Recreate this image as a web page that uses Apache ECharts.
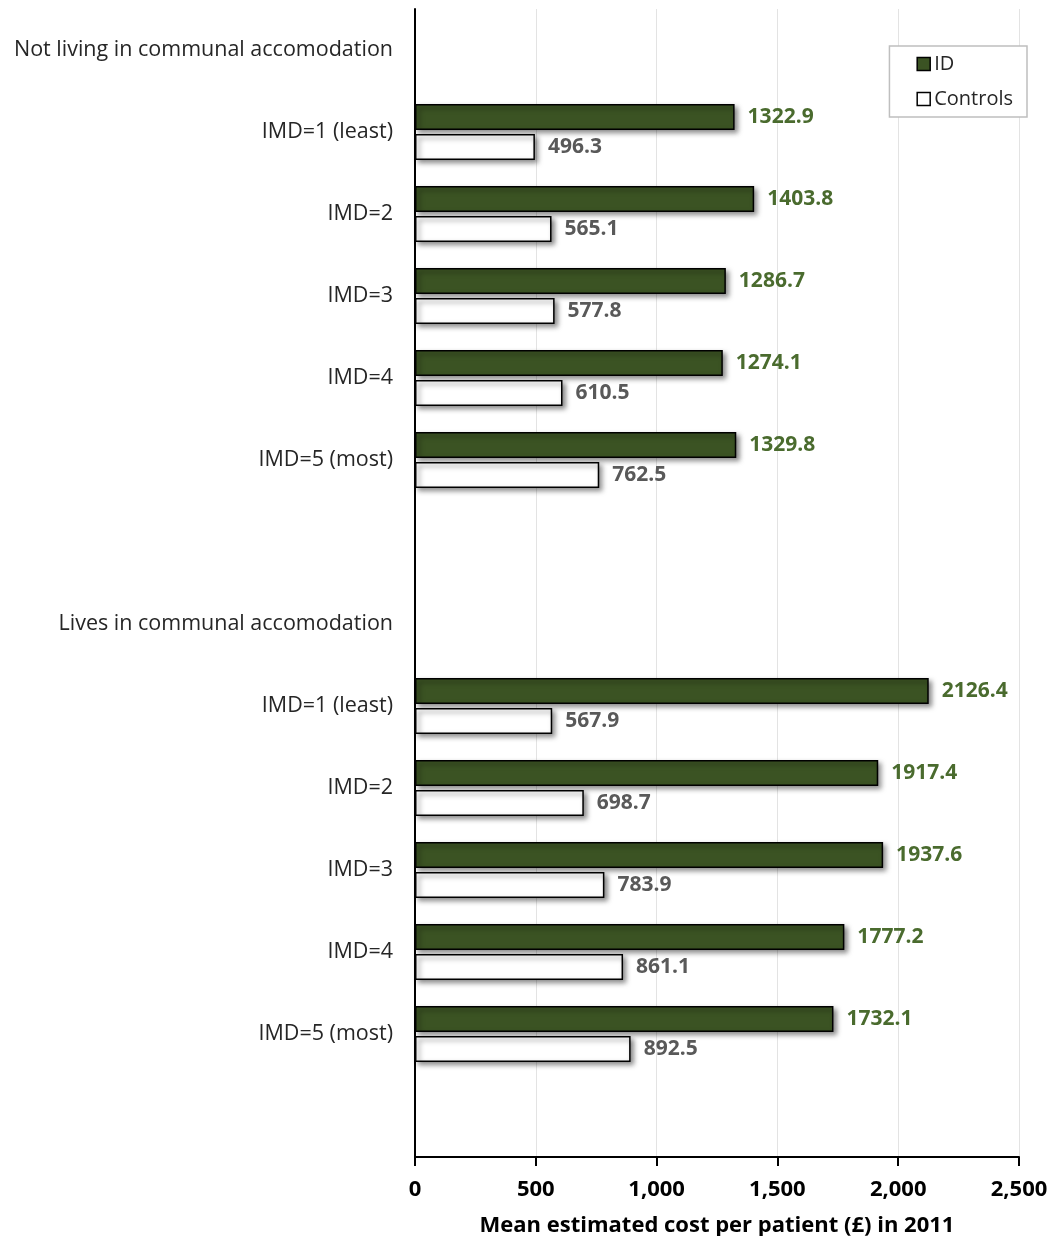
<!DOCTYPE html>
<html>
<head>
<meta charset="utf-8">
<script src="https://cdn.jsdelivr.net/npm/echarts@6/dist/echarts.min.js"></script>
<style>
html,body{margin:0;padding:0;background:#fff;}
#chart{width:1055px;height:1236px;}
</style>
</head>
<body>
<div id="chart"></div>
<script>
var categories = [
  'Not living in communal accomodation',
  'IMD=1 (least)', 'IMD=2', 'IMD=3', 'IMD=4', 'IMD=5 (most)',
  '',
  'Lives in communal accomodation',
  'IMD=1 (least)', 'IMD=2', 'IMD=3', 'IMD=4', 'IMD=5 (most)',
  ' '
];
var idValues = [null, 1322.9, 1403.8, 1286.7, 1274.1, 1329.8, null,
                null, 2126.4, 1917.4, 1937.6, 1777.2, 1732.1, null];
var controlValues = [null, 496.3, 565.1, 577.8, 610.5, 762.5, null,
                     null, 567.9, 698.7, 783.9, 861.1, 892.5, null];
var xTicks = { min: 0, max: 2500, interval: 500 };

var FONT = '"Open Sans", Lato, sans-serif';
var chart = echarts.init(document.getElementById('chart'), null, {renderer: 'canvas'});
var shadow = { shadowBlur: 5, shadowOffsetX: 3, shadowOffsetY: 3, shadowColor: 'rgba(0,0,0,0.5)' };
chart.setOption({
  animation: false,
  backgroundColor: '#ffffff',
  grid: { left: 415, right: 36, top: 9, bottom: 79, containLabel: false, outerBoundsMode: 'none' },
  legend: {
    orient: 'vertical',
    right: 28, top: 46,
    padding: [8, 14, 8, 27],
    itemWidth: 13, itemHeight: 13, itemGap: 15,
    borderColor: '#bfbfbf', borderWidth: 1.5,
    backgroundColor: '#ffffff',
    textStyle: { fontFamily: FONT, fontSize: 20, color: '#262626', padding: [0, 0, 0, -1] },
    data: [
      { name: 'ID', icon: 'rect', itemStyle: { color: '#3b5323', borderColor: '#000', borderWidth: 1.5, shadowBlur: 0, shadowOffsetX: 0, shadowOffsetY: 0 } },
      { name: 'Controls', icon: 'rect', itemStyle: { color: '#ffffff', borderColor: '#000', borderWidth: 1.5, shadowBlur: 0, shadowOffsetX: 0, shadowOffsetY: 0 } }
    ]
  },
  xAxis: {
    type: 'value',
    min: xTicks.min, max: xTicks.max, interval: xTicks.interval,
    name: 'Mean estimated cost per patient (£) in 2011',
    nameLocation: 'middle', nameGap: 58,
    nameTextStyle: { fontFamily: FONT, fontSize: 22, fontWeight: 'bold', color: '#000' },
    axisLine: { show: true, lineStyle: { color: '#000', width: 2 } },
    axisTick: { show: true, length: 9, lineStyle: { color: '#000', width: 2 } },
    axisLabel: {
      fontFamily: FONT, fontSize: 22, fontWeight: 'bold', color: '#000', margin: 22,
      formatter: function (v) { return v.toLocaleString('en-US'); }
    },
    splitLine: { show: true, lineStyle: { color: '#e3e3e3', width: 1 } }
  },
  yAxis: {
    type: 'category',
    inverse: true,
    data: categories,
    axisLine: { show: true, lineStyle: { color: '#000', width: 2 } },
    axisTick: { show: false },
    axisLabel: { fontFamily: FONT, fontSize: 21.5, color: '#262626', margin: 22, interval: 0 },
    splitLine: { show: false }
  },
  series: [
    {
      name: 'ID', type: 'bar', data: idValues,
      barWidth: 26, barGap: '15%',
      itemStyle: Object.assign({ color: '#3b5323', borderColor: '#000', borderWidth: 1.5 }, shadow),
      label: {
        show: true, position: 'right', distance: 13,
        fontFamily: FONT, fontSize: 21, fontWeight: 'bold', color: '#4a6b2e',
        formatter: function (p) { return p.value.toFixed(1); }
      }
    },
    {
      name: 'Controls', type: 'bar', data: controlValues,
      barWidth: 26, barGap: '15%',
      itemStyle: Object.assign({ color: '#ffffff', borderColor: '#000', borderWidth: 1.5 }, shadow),
      label: {
        show: true, position: 'right', distance: 13,
        fontFamily: FONT, fontSize: 21, fontWeight: 'bold', color: '#595959',
        formatter: function (p) { return p.value.toFixed(1); }
      }
    }
  ]
});
</script>
</body>
</html>
